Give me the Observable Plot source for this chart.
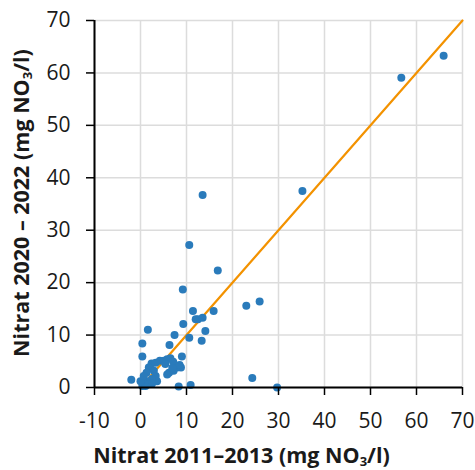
<!DOCTYPE html>
<html><head><meta charset="utf-8">
<script src="https://cdn.jsdelivr.net/npm/d3@7"></script>
<script src="https://cdn.jsdelivr.net/npm/@observablehq/plot@0.6"></script>
<style>body{margin:0;background:#fff}</style>
</head><body><div id="chart"></div>
<script>
// Nitrat 2011–2013 (x) vs Nitrat 2020–2022 (y), mg NO3/l
const nitrat2011 = [65.9, 56.7, 35.2, 13.5, 10.6, 16.8, 9.2, 23.0, 25.9, 11.4, 15.9, 12.0, 12.5, 13.5, 9.3, 14.1, 10.6, 13.3, 1.6, 7.4, 0.4, 6.3, 0.4, 9.0, 8.8, 24.3, 10.9, 29.7, 8.3, -2.0,
  2.4, 3.3, 4.2, 5.1, 5.8, 6.5, 7.1, 5.4, 8.0, 7.2, 6.2, 5.8, 1.8, 1.3, 2.9, 3.3, 3.6, 2.5, 1.4, 0.7, 0.4, 1.1, 1.8, 2.5, 0.0, 0.7, 8.5, 6.9];
const nitrat2020 = [63.3, 59.1, 37.5, 36.7, 27.2, 22.3, 18.7, 15.6, 16.4, 14.6, 14.6, 13.0, 13.0, 13.3, 12.1, 10.8, 9.5, 8.9, 11.0, 10.0, 8.4, 8.1, 5.9, 5.9, 3.8, 1.8, 0.5, 0.0, 0.2, 1.5,
  4.6, 4.7, 5.1, 5.1, 5.4, 5.6, 4.9, 4.5, 3.8, 3.2, 2.8, 2.5, 3.8, 2.8, 3.2, 2.2, 1.2, 1.6, 1.2, 0.9, 0.3, 0.3, 0.6, 0.7, 1.2, 2.2, 4.3, 3.7];
const refLine = [0, 70];
const xTicks = [-10, 0, 10, 20, 30, 40, 50, 60, 70];
const yTicks = [0, 10, 20, 30, 40, 50, 60, 70];

const points = nitrat2011.map((x, i) => ({x, y: nitrat2020[i]}));
const line = refLine.map(v => ({x: v, y: v}));

const plot = Plot.plot({
  width: 475, height: 470,
  marginLeft: 94, marginRight: 13, marginTop: 20, marginBottom: 83,
  style: {fontFamily: "'Open Sans', sans-serif", fontSize: "21px", color: "#1a1a1a", background: "#fff", overflow: "visible"},
  x: {domain: [-10, 70], label: null},
  y: {domain: [0, 70], label: null},
  marks: [
    Plot.gridX(xTicks, {stroke: "#dcdcdc", strokeOpacity: 1, strokeWidth: 1.5}),
    Plot.gridY(yTicks, {stroke: "#dcdcdc", strokeOpacity: 1, strokeWidth: 1.5}),
    Plot.line(line, {x: "x", y: "y", stroke: "#f39200", strokeWidth: 2.2}),
    Plot.dot(points, {x: "x", y: "y", r: 4, fill: "#2a7bbb"}),
    Plot.ruleY([0], {stroke: "#000", strokeWidth: 2}),
    Plot.ruleX([-10], {stroke: "#000", strokeWidth: 2}),
    Plot.axisX(xTicks, {tickSize: 8, tickPadding: 18, tickFormat: d => String(d), stroke: "#000", strokeWidth: 1.5, label: null}),
    Plot.axisY(yTicks, {tickSize: 8, tickPadding: 16, tickFormat: d => String(d), stroke: "#000", strokeWidth: 1.5, label: null})
  ]
});
document.getElementById("chart").append(plot);

const svg = d3.select(plot);
const lx = svg.append("text")
  .attr("x", 241.5).attr("y", 463)
  .attr("text-anchor", "middle")
  .attr("font-weight", "bold").attr("font-size", 21.5).attr("fill", "#1a1a1a");
lx.append("tspan").text("Nitrat 2011–2013 (mg NO");
lx.append("tspan").attr("font-size", 13).attr("baseline-shift", "-25%").text("3");
lx.append("tspan").text("/l)");

const ly = svg.append("text")
  .attr("transform", "translate(29,203) rotate(-90)")
  .attr("text-anchor", "middle")
  .attr("font-weight", "bold").attr("font-size", 21.5).attr("fill", "#1a1a1a");
ly.append("tspan").text("Nitrat 2020 – 2022 (mg NO");
ly.append("tspan").attr("font-size", 13).attr("baseline-shift", "-25%").text("3");
ly.append("tspan").text("/l)");
</script>
</body></html>
